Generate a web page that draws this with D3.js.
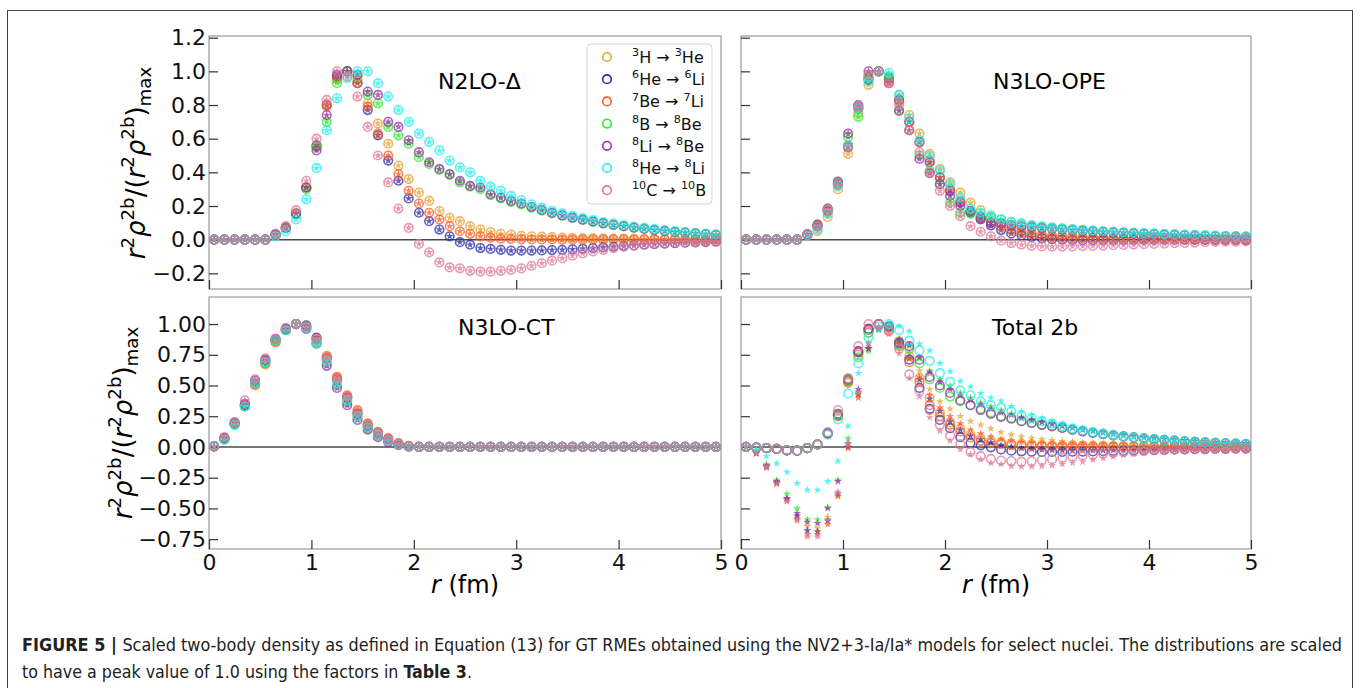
<!DOCTYPE html>
<html>
<head>
<meta charset="utf-8">
<script src="https://cdn.jsdelivr.net/npm/d3@7"></script>
<style>
  body { margin: 0; background: #fff; }
  svg text { font-family: "DejaVu Sans", sans-serif; }
</style>
</head>
<body>
<div id="chart"></div>
<script>
// radial grid (fm)
const rVals = [0.05,0.15,0.25,0.35,0.45,0.55,0.65,0.75,0.85,0.95,1.05,1.15,1.25,1.35,1.45,1.55,1.65,1.75,1.85,1.95,2.05,2.15,2.25,2.35,2.45,2.55,2.65,2.75,2.85,2.95,3.05,3.15,3.25,3.35,3.45,3.55,3.65,3.75,3.85,3.95,4.05,4.15,4.25,4.35,4.45,4.55,4.65,4.75,4.85,4.95];

// transitions: [A parent, parent, A daughter, daughter]
const transitions = [["3","H","3","He"],["6","He","6","Li"],["7","Be","7","Li"],["8","B","8","Be"],["8","Li","8","Be"],["8","He","8","Li"],["10","C","10","B"]];
const colors = ["#e8a232","#2a2aa6","#ff5a24","#2bee2b","#9a2fa8","#1ff0f0","#e07898"];

const panelTitles = ["N2LO-Δ","N3LO-OPE","N3LO-CT","Total 2b"];
const xTicks = [0,1,2,3,4,5];
const yTicksTop = [-0.2,0,0.2,0.4,0.6,0.8,1.0,1.2];
const yTicksBottom = [-0.75,-0.5,-0.25,0,0.25,0.5,0.75,1.0];

// N2LO-Delta (Ia, Ia* share these)
const n2lo_3H = [0,0,0,0,0,0,0.03,0.07,0.155,0.31,0.55,0.79,0.95,1.0,0.95,0.81,0.69,0.57,0.44,0.36,0.28,0.23,0.17,0.13,0.11,0.08,0.06,0.045,0.035,0.03,0.023,0.02,0.018,0.015,0.013,0.011,0.01,0.009,0.008,0.007,0.006,0.006,0.005,0.005,0.004,0.004,0.004,0.003,0.003,0.003];
const n2lo_6He = [0,0,0,0,0,0,0.03,0.07,0.155,0.31,0.56,0.80,0.97,1.0,0.93,0.77,0.62,0.47,0.35,0.245,0.16,0.11,0.06,0.02,-0.015,-0.03,-0.05,-0.055,-0.06,-0.065,-0.065,-0.065,-0.064,-0.062,-0.06,-0.057,-0.054,-0.05,-0.046,-0.042,-0.038,-0.034,-0.03,-0.027,-0.024,-0.021,-0.018,-0.016,-0.014,-0.012];
const n2lo_7Be = [0,0,0,0,0,0,0.03,0.07,0.155,0.31,0.555,0.80,0.96,1.0,0.93,0.79,0.63,0.50,0.39,0.29,0.215,0.16,0.12,0.08,0.05,0.035,0.02,0.012,0.006,0.004,0.002,0.001,0.001,0.001,0,0,0,0,0,0,0,0,0,0,0,0,0,0,0,0];
const n2lo_8B = [0,0,0,0,0,0,0.03,0.07,0.15,0.30,0.55,0.70,0.93,1.0,0.97,0.86,0.81,0.67,0.62,0.57,0.49,0.45,0.415,0.385,0.34,0.315,0.30,0.265,0.245,0.225,0.21,0.19,0.172,0.156,0.142,0.129,0.117,0.106,0.096,0.087,0.079,0.071,0.064,0.057,0.051,0.046,0.041,0.036,0.032,0.028];
const n2lo_8Li = [0,0,0,0,0,0,0.03,0.07,0.155,0.31,0.53,0.74,0.98,1.0,0.98,0.88,0.86,0.70,0.67,0.59,0.52,0.46,0.42,0.39,0.35,0.32,0.31,0.27,0.25,0.23,0.215,0.195,0.177,0.16,0.145,0.131,0.119,0.108,0.098,0.089,0.08,0.072,0.065,0.058,0.052,0.047,0.042,0.037,0.033,0.029];
const n2lo_8He = [0,0,0,0,0,0,0.02,0.05,0.12,0.24,0.425,0.65,0.84,0.96,1.0,1.0,0.93,0.85,0.77,0.70,0.63,0.58,0.53,0.47,0.43,0.40,0.35,0.315,0.29,0.26,0.235,0.21,0.19,0.172,0.156,0.141,0.128,0.116,0.105,0.095,0.086,0.078,0.07,0.063,0.057,0.051,0.046,0.041,0.036,0.032];
const n2lo_10C = [0,0,0,0,0,0,0.035,0.08,0.175,0.35,0.60,0.83,1.0,0.97,0.85,0.67,0.50,0.34,0.185,0.07,-0.025,-0.075,-0.135,-0.165,-0.17,-0.185,-0.19,-0.19,-0.185,-0.18,-0.17,-0.155,-0.14,-0.125,-0.11,-0.095,-0.082,-0.07,-0.06,-0.05,-0.042,-0.035,-0.03,-0.025,-0.021,-0.018,-0.015,-0.013,-0.011,-0.01];

// N3LO-OPE
const ope_3H = [0,0,0,0,0,0,0.03,0.05,0.135,0.30,0.51,0.75,0.92,1.0,0.95,0.86,0.74,0.63,0.51,0.42,0.34,0.28,0.22,0.175,0.135,0.10,0.075,0.055,0.04,0.032,0.026,0.022,0.019,0.016,0.014,0.012,0.011,0.01,0.009,0.008,0.007,0.006,0.006,0.005,0.005,0.004,0.004,0.004,0.003,0.003];
const ope_6He = [0,0,0,0,0,0,0.03,0.08,0.17,0.33,0.55,0.78,0.95,1.0,0.96,0.83,0.70,0.58,0.46,0.37,0.29,0.22,0.16,0.12,0.085,0.057,0.037,0.025,0.016,0.008,0.003,0,-0.002,-0.003,-0.003,-0.003,-0.003,-0.003,-0.003,-0.002,-0.002,-0.002,-0.002,-0.002,-0.002,-0.001,-0.001,-0.001,-0.001,-0.001];
const ope_7Be = [0,0,0,0,0,0,0.03,0.08,0.17,0.33,0.56,0.79,0.96,1.0,0.94,0.82,0.70,0.58,0.47,0.37,0.30,0.23,0.17,0.13,0.10,0.075,0.055,0.04,0.03,0.022,0.017,0.014,0.012,0.01,0.009,0.008,0.007,0.006,0.005,0.005,0.004,0.004,0.003,0.003,0.003,0.002,0.002,0.002,0.002,0.002];
const ope_8B = [0,0,0,0,0,0,0.03,0.09,0.185,0.34,0.61,0.73,0.97,1.0,0.97,0.77,0.65,0.50,0.41,0.33,0.22,0.16,0.155,0.14,0.13,0.12,0.105,0.095,0.085,0.078,0.072,0.067,0.062,0.058,0.054,0.05,0.047,0.044,0.041,0.038,0.036,0.033,0.031,0.029,0.027,0.025,0.023,0.021,0.02,0.018];
const ope_8Li = [0,0,0,0,0,0,0.03,0.09,0.185,0.345,0.63,0.80,1.0,1.0,0.93,0.765,0.65,0.48,0.395,0.33,0.26,0.20,0.17,0.13,0.10,0.095,0.086,0.08,0.074,0.069,0.064,0.06,0.056,0.052,0.048,0.045,0.042,0.039,0.036,0.034,0.032,0.03,0.028,0.026,0.024,0.022,0.02,0.019,0.018,0.017];
const ope_8He = [0,0,0,0,0,0,0.025,0.06,0.155,0.32,0.56,0.78,0.94,1.0,0.99,0.86,0.72,0.59,0.50,0.41,0.33,0.25,0.185,0.16,0.145,0.12,0.105,0.096,0.085,0.077,0.07,0.065,0.061,0.057,0.053,0.05,0.047,0.044,0.041,0.038,0.036,0.033,0.031,0.029,0.027,0.025,0.023,0.021,0.02,0.018];
const ope_10C = [0,0,0,0,0,0,0.035,0.08,0.18,0.33,0.55,0.79,0.98,1.0,0.93,0.80,0.65,0.52,0.40,0.29,0.20,0.14,0.08,0.047,0.02,-0.006,-0.02,-0.03,-0.037,-0.04,-0.041,-0.041,-0.04,-0.039,-0.037,-0.035,-0.033,-0.031,-0.029,-0.027,-0.025,-0.023,-0.021,-0.019,-0.017,-0.015,-0.013,-0.012,-0.011,-0.01];

// N3LO-CT
const ct_3H = [0.005,0.07,0.19,0.34,0.50,0.67,0.86,0.95,1.0,0.98,0.87,0.73,0.56,0.41,0.29,0.19,0.12,0.07,0.03,0.008,0,0,0,0,0,0,0,0,0,0,0,0,0,0,0,0,0,0,0,0,0,0,0,0,0,0,0,0,0,0];
const ct_6He = [0.005,0.07,0.19,0.34,0.52,0.70,0.87,0.96,1.0,0.99,0.89,0.72,0.55,0.40,0.27,0.17,0.11,0.06,0.025,0.005,0,0,0,0,0,0,0,0,0,0,0,0,0,0,0,0,0,0,0,0,0,0,0,0,0,0,0,0,0,0];
const ct_7Be = [0.005,0.07,0.19,0.33,0.51,0.68,0.85,0.95,1.0,0.98,0.88,0.74,0.57,0.42,0.30,0.19,0.12,0.07,0.03,0.01,0,0,0,0,0,0,0,0,0,0,0,0,0,0,0,0,0,0,0,0,0,0,0,0,0,0,0,0,0,0];
const ct_8B = [0.005,0.06,0.18,0.33,0.52,0.69,0.86,0.95,1.0,0.97,0.85,0.68,0.50,0.36,0.24,0.15,0.09,0.05,0.02,0.005,0,0,0,0,0,0,0,0,0,0,0,0,0,0,0,0,0,0,0,0,0,0,0,0,0,0,0,0,0,0];
const ct_8Li = [0.005,0.07,0.20,0.35,0.54,0.71,0.88,0.96,1.0,0.96,0.84,0.66,0.48,0.34,0.22,0.14,0.08,0.04,0.015,0.003,0,0,0,0,0,0,0,0,0,0,0,0,0,0,0,0,0,0,0,0,0,0,0,0,0,0,0,0,0,0];
const ct_8He = [0.01,0.06,0.18,0.33,0.52,0.69,0.87,0.95,1.0,0.97,0.84,0.70,0.52,0.38,0.25,0.16,0.10,0.05,0.02,0,0,0,0,0,0,0,0,0,0,0,0,0,0,0,0,0,0,0,0,0,0,0,0,0,0,0,0,0,0,0];
const ct_10C = [0.005,0.08,0.20,0.38,0.55,0.72,0.88,0.97,1.0,0.98,0.88,0.72,0.55,0.41,0.28,0.18,0.11,0.06,0.025,0.005,0,0,0,0,0,0,0,0,0,0,0,0,0,0,0,0,0,0,0,0,0,0,0,0,0,0,0,0,0,0];

// Total 2b, Ia (circles)
const tot_3H = [0,-0.005,-0.01,-0.015,-0.027,-0.03,-0.01,0.02,0.11,0.25,0.52,0.75,0.93,1.0,0.97,0.86,0.74,0.56,0.40,0.28,0.20,0.15,0.10,0.073,0.05,0.037,0.03,0.025,0.021,0.018,0.016,0.014,0.013,0.012,0.011,0.01,0.009,0.008,0.008,0.007,0.007,0.006,0.006,0.005,0.005,0.005,0.004,0.004,0.004,0.004];
const tot_6He = [0,-0.005,-0.01,-0.015,-0.027,-0.03,-0.01,0.02,0.11,0.26,0.54,0.78,0.96,1.0,0.98,0.84,0.71,0.48,0.31,0.22,0.153,0.08,0.032,0.013,-0.003,-0.02,-0.03,-0.035,-0.038,-0.04,-0.04,-0.04,-0.039,-0.038,-0.036,-0.034,-0.032,-0.03,-0.028,-0.026,-0.024,-0.022,-0.02,-0.019,-0.018,-0.017,-0.016,-0.015,-0.014,-0.013];
const tot_7Be = [0,-0.005,-0.01,-0.015,-0.027,-0.03,-0.01,0.02,0.11,0.25,0.53,0.77,0.95,1.0,0.95,0.82,0.69,0.53,0.34,0.25,0.18,0.126,0.078,0.05,0.032,0.024,0.016,0.01,0.007,0.005,0.003,0.002,0.002,0.002,0.001,0.001,0.001,0.001,0.001,0.001,0,0,0,0,0,0,0,0,0,0];
const tot_8B = [0,-0.005,-0.01,-0.015,-0.027,-0.03,-0.01,0.02,0.11,0.26,0.54,0.73,0.93,1.0,0.97,0.83,0.80,0.68,0.55,0.48,0.41,0.37,0.34,0.31,0.28,0.25,0.235,0.21,0.195,0.18,0.17,0.155,0.14,0.127,0.115,0.105,0.095,0.086,0.078,0.07,0.063,0.057,0.051,0.046,0.041,0.037,0.033,0.03,0.027,0.024];
const tot_8Li = [0,-0.005,-0.01,-0.015,-0.027,-0.03,-0.01,0.02,0.11,0.27,0.55,0.77,0.96,1.0,0.98,0.85,0.82,0.71,0.57,0.50,0.44,0.38,0.34,0.30,0.27,0.245,0.23,0.21,0.195,0.18,0.168,0.155,0.14,0.127,0.115,0.105,0.095,0.086,0.078,0.07,0.063,0.057,0.051,0.046,0.041,0.037,0.033,0.03,0.027,0.024];
const tot_8He = [0,-0.005,-0.01,-0.015,-0.025,-0.03,-0.01,0.02,0.10,0.225,0.435,0.68,0.89,0.98,1.0,0.95,0.865,0.785,0.70,0.60,0.53,0.46,0.42,0.37,0.34,0.32,0.29,0.255,0.235,0.21,0.19,0.17,0.15,0.135,0.12,0.108,0.097,0.087,0.078,0.07,0.063,0.057,0.051,0.046,0.041,0.037,0.033,0.03,0.027,0.024];
const tot_10C = [0,-0.005,-0.01,-0.015,-0.025,-0.03,-0.01,0.02,0.12,0.30,0.56,0.82,1.0,1.0,0.94,0.80,0.59,0.46,0.30,0.18,0.094,0.024,-0.04,-0.075,-0.097,-0.11,-0.115,-0.12,-0.115,-0.107,-0.10,-0.09,-0.08,-0.07,-0.062,-0.055,-0.048,-0.042,-0.037,-0.032,-0.028,-0.025,-0.022,-0.019,-0.017,-0.015,-0.013,-0.012,-0.011,-0.01];

// Total 2b, Ia* (stars)
const totS_3H = [0,-0.05,-0.16,-0.29,-0.43,-0.58,-0.645,-0.66,-0.57,-0.40,0,0.42,0.82,0.97,0.97,0.85,0.76,0.62,0.47,0.37,0.31,0.25,0.21,0.18,0.15,0.12,0.10,0.085,0.072,0.062,0.054,0.047,0.041,0.036,0.032,0.028,0.025,0.022,0.02,0.018,0.016,0.014,0.013,0.012,0.011,0.01,0.009,0.008,0.007,0.007];
const totS_6He = [0,-0.05,-0.16,-0.29,-0.42,-0.56,-0.68,-0.69,-0.60,-0.38,0,0.43,0.80,0.97,0.97,0.84,0.72,0.55,0.39,0.29,0.21,0.14,0.09,0.06,0.035,0.015,0,-0.01,-0.017,-0.022,-0.025,-0.027,-0.028,-0.028,-0.028,-0.027,-0.026,-0.025,-0.024,-0.023,-0.022,-0.021,-0.02,-0.019,-0.018,-0.017,-0.016,-0.015,-0.014,-0.013];
const totS_7Be = [0,-0.05,-0.17,-0.30,-0.44,-0.59,-0.71,-0.71,-0.63,-0.40,-0.01,0.40,0.80,0.96,0.96,0.84,0.72,0.57,0.42,0.32,0.25,0.19,0.14,0.11,0.085,0.065,0.05,0.04,0.033,0.027,0.022,0.018,0.015,0.013,0.011,0.009,0.008,0.007,0.006,0.005,0.005,0.004,0.004,0.003,0.003,0.003,0.002,0.002,0.002,0.002];
const totS_8B = [0,-0.03,-0.14,-0.27,-0.38,-0.50,-0.59,-0.59,-0.49,-0.27,0.07,0.45,0.78,0.95,0.97,0.88,0.82,0.72,0.62,0.55,0.50,0.44,0.40,0.36,0.33,0.30,0.27,0.245,0.225,0.205,0.19,0.173,0.158,0.144,0.131,0.12,0.109,0.099,0.09,0.082,0.074,0.067,0.061,0.055,0.05,0.045,0.041,0.037,0.033,0.03];
const totS_8Li = [0,-0.05,-0.15,-0.28,-0.42,-0.54,-0.61,-0.62,-0.50,-0.28,0.03,0.47,0.80,0.96,0.98,0.87,0.83,0.73,0.61,0.53,0.47,0.42,0.38,0.345,0.31,0.28,0.26,0.235,0.215,0.20,0.185,0.17,0.155,0.141,0.128,0.117,0.106,0.096,0.087,0.079,0.072,0.065,0.059,0.053,0.048,0.043,0.039,0.035,0.032,0.029];
const totS_8He = [0,-0.02,-0.075,-0.135,-0.205,-0.295,-0.35,-0.35,-0.28,-0.115,0.17,0.60,0.85,0.97,1.0,0.985,0.94,0.84,0.785,0.68,0.615,0.535,0.49,0.435,0.40,0.375,0.33,0.29,0.26,0.235,0.21,0.18,0.16,0.145,0.13,0.115,0.10,0.09,0.08,0.072,0.065,0.058,0.052,0.047,0.042,0.038,0.034,0.031,0.028,0.025];
const totS_10C = [0,-0.055,-0.16,-0.30,-0.44,-0.60,-0.73,-0.73,-0.59,-0.365,0.02,0.44,0.84,0.98,0.92,0.76,0.56,0.41,0.24,0.13,0.05,-0.02,-0.06,-0.10,-0.13,-0.14,-0.155,-0.16,-0.16,-0.155,-0.15,-0.14,-0.13,-0.12,-0.105,-0.09,-0.078,-0.067,-0.057,-0.048,-0.041,-0.035,-0.03,-0.026,-0.022,-0.019,-0.016,-0.014,-0.012,-0.011];

const width = 1360, height = 688;
const fontTick = 22, fontLabel = 26;

const svg = d3.select("#chart").append("svg")
  .attr("width", width)
  .attr("height", height);

// page frame
svg.append("rect")
  .attr("x", 7.5).attr("y", 10.5)
  .attr("width", 1345).attr("height", 700)
  .attr("fill", "none").attr("stroke", "#444").attr("stroke-width", 1);

const colX = [[209, 721], [741, 1251]];
const rowY = [[36, 289], [297, 549]];
const yDomains = [[-0.293, 1.21], [-0.83, 1.22]];
const yTickSets = [yTicksTop, yTicksBottom];

const panels = [
  { title: panelTitles[0], col: 0, row: 0, tx: 438, circles: [n2lo_3H, n2lo_6He, n2lo_7Be, n2lo_8B, n2lo_8Li, n2lo_8He, n2lo_10C], stars: [n2lo_3H, n2lo_6He, n2lo_7Be, n2lo_8B, n2lo_8Li, n2lo_8He, n2lo_10C] },
  { title: panelTitles[1], col: 1, row: 0, tx: 993, circles: [ope_3H, ope_6He, ope_7Be, ope_8B, ope_8Li, ope_8He, ope_10C], stars: [ope_3H, ope_6He, ope_7Be, ope_8B, ope_8Li, ope_8He, ope_10C] },
  { title: panelTitles[2], col: 0, row: 1, tx: 458, circles: [ct_3H, ct_6He, ct_7Be, ct_8B, ct_8Li, ct_8He, ct_10C], stars: [ct_3H, ct_6He, ct_7Be, ct_8B, ct_8Li, ct_8He, ct_10C] },
  { title: panelTitles[3], col: 1, row: 1, tx: 992, circles: [tot_3H, tot_6He, tot_7Be, tot_8B, tot_8Li, tot_8He, tot_10C], stars: [totS_3H, totS_6He, totS_7Be, totS_8B, totS_8Li, totS_8He, totS_10C] }
];

// text with super/subscripts via tspans
function richText(sel, parts, fs) {
  let cur = 0;
  parts.forEach(p => {
    const target = p.s === "sup" ? -0.42 * fs : p.s === "sub" ? 0.24 * fs : 0;
    sel.append("tspan")
      .attr("dy", target - cur)
      .attr("font-size", p.s ? fs * 0.7 : fs)
      .attr("font-style", p.i ? "italic" : null)
      .text(p.t);
    cur = target;
  });
}

const star = d3.symbol().type(d3.symbolStar).size(20);

panels.forEach(p => {
  const [x0, x1] = colX[p.col];
  const [y0, y1] = rowY[p.row];
  const x = d3.scaleLinear().domain([0, 5]).range([x0, x1]);
  const y = d3.scaleLinear().domain(yDomains[p.row]).range([y1, y0]);
  const g = svg.append("g");

  // frame
  g.append("rect")
    .attr("x", x0).attr("y", y0)
    .attr("width", x1 - x0).attr("height", y1 - y0)
    .attr("fill", "none").attr("stroke", "#9a9a9a").attr("stroke-width", 1.2);

  // y axis, ticks pointing inwards
  const yAxis = d3.axisLeft(y)
    .tickValues(yTickSets[p.row])
    .tickSize(-9).tickSizeOuter(0).tickPadding(3)
    .tickFormat(p.col === 0 ? d3.format(p.row === 0 ? ".1f" : ".2f") : "");
  g.append("g")
    .attr("transform", "translate(" + x0 + ",0)")
    .call(yAxis)
    .call(a => a.select(".domain").remove());

  // x axis
  const xAxis = d3.axisBottom(x)
    .tickValues(xTicks)
    .tickSize(-9).tickSizeOuter(0).tickPadding(5)
    .tickFormat(p.row === 1 ? d3.format("d") : "");
  g.append("g")
    .attr("transform", "translate(0," + y1 + ")")
    .call(xAxis)
    .call(a => a.select(".domain").remove());

  g.selectAll(".tick line").attr("stroke", "#333").attr("stroke-width", 1.2);
  g.selectAll(".tick text")
    .attr("font-size", fontTick)
    .attr("font-family", "DejaVu Sans, sans-serif")
    .attr("fill", "#111");

  // zero line
  g.append("line")
    .attr("x1", x0).attr("x2", x1)
    .attr("y1", y(0)).attr("y2", y(0))
    .attr("stroke", "#4a4a4a").attr("stroke-width", 1.4);

  // points: open circles = Ia, stars = Ia*
  p.circles.forEach((vals, i) => {
    g.append("g").selectAll("circle")
      .data(vals)
      .enter().append("circle")
      .attr("cx", (d, k) => x(rVals[k]))
      .attr("cy", d => y(d))
      .attr("r", 4.3)
      .attr("fill", "none")
      .attr("stroke", colors[i])
      .attr("stroke-width", 1.6)
      .attr("opacity", 0.75);
    g.append("g").selectAll("path")
      .data(p.stars[i])
      .enter().append("path")
      .attr("d", star)
      .attr("transform", (d, k) => "translate(" + x(rVals[k]) + "," + y(d) + ")")
      .attr("fill", colors[i])
      .attr("opacity", 0.75);
  });

  // panel title
  g.append("text")
    .attr("x", p.tx)
    .attr("y", p.row === 0 ? 89 : 335)
    .attr("font-size", 22)
    .attr("fill", "#000")
    .text(p.title);

  // x label
  if (p.row === 1) {
    const t = g.append("text")
      .attr("x", (x0 + x1) / 2)
      .attr("y", 593)
      .attr("text-anchor", "middle")
      .attr("fill", "#000");
    richText(t, [{ t: "r", i: 1 }, { t: " (fm)" }], 24);
  }
});

// y labels
const yLabelParts = [
  { t: "r", i: 1 }, { t: "2", s: "sup" }, { t: "ρ", i: 1 }, { t: "2b", s: "sup" },
  { t: "/(" }, { t: "r", i: 1 }, { t: "2", s: "sup" }, { t: "ρ", i: 1 }, { t: "2b", s: "sup" },
  { t: ")" }, { t: "max", s: "sub" }
];
[[145, 163], [132, 423]].forEach(([lx, ly]) => {
  const t = svg.append("text")
    .attr("transform", "translate(" + lx + "," + ly + ") rotate(-90)")
    .attr("text-anchor", "middle")
    .attr("fill", "#000");
  richText(t, yLabelParts, fontLabel);
});

// legend
const legend = svg.append("g");
legend.append("rect")
  .attr("x", 587).attr("y", 44)
  .attr("width", 125).attr("height", 160)
  .attr("rx", 4)
  .attr("fill", "#fff").attr("fill-opacity", 0.85)
  .attr("stroke", "#d6d6d6");
transitions.forEach((tr, i) => {
  const ly = 57 + i * 22.2;
  legend.append("circle")
    .attr("cx", 607).attr("cy", ly)
    .attr("r", 4.3)
    .attr("fill", "none")
    .attr("stroke", colors[i])
    .attr("stroke-width", 1.6);
  const t = legend.append("text")
    .attr("x", 632).attr("y", ly + 6)
    .attr("fill", "#111");
  richText(t, [{ t: tr[0], s: "sup" }, { t: tr[1] + " → " }, { t: tr[2], s: "sup" }, { t: tr[3] }], 16);
});

// caption (condensed look: larger glyphs squeezed to the measured width)
const capFont = "'Liberation Sans Narrow', 'DejaVu Sans Condensed', 'Arial Narrow', sans-serif";
const cap1 = svg.append("text")
  .attr("x", 22).attr("y", 651)
  .attr("font-size", 17.5)
  .attr("fill", "#222")
  .style("font-family", capFont)
  .attr("textLength", 1320)
  .attr("lengthAdjust", "spacingAndGlyphs");
cap1.append("tspan").attr("font-weight", "bold").text("FIGURE 5 | ");
cap1.append("tspan").text("Scaled two-body density as defined in Equation (13) for GT RMEs obtained using the NV2+3-Ia/Ia* models for select nuclei. The distributions are scaled");

const cap2 = svg.append("text")
  .attr("x", 22).attr("y", 678)
  .attr("font-size", 17.5)
  .attr("fill", "#222")
  .style("font-family", capFont)
  .attr("textLength", 450)
  .attr("lengthAdjust", "spacingAndGlyphs");
cap2.append("tspan").text("to have a peak value of 1.0 using the factors in ");
cap2.append("tspan").attr("font-weight", "bold").text("Table 3");
cap2.append("tspan").text(".");
</script>
</body>
</html>
